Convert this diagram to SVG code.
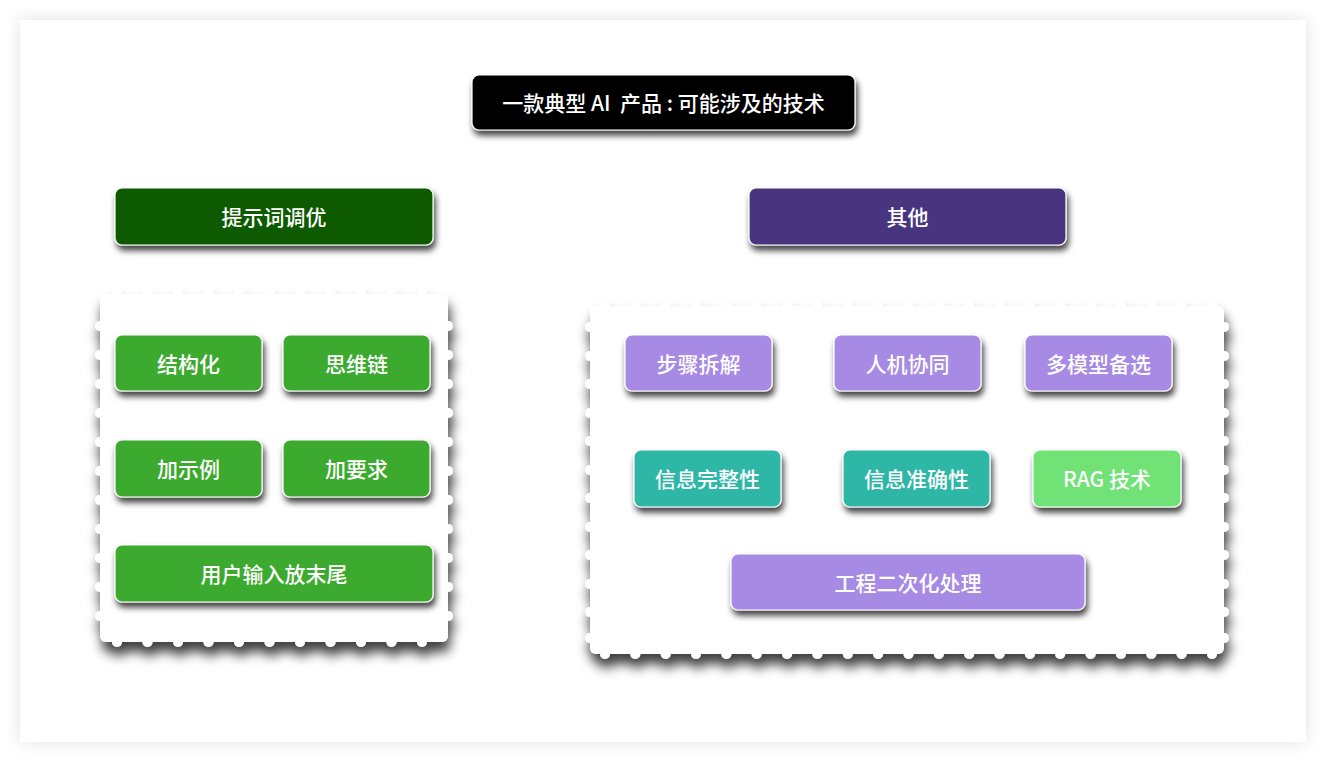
<svg xmlns="http://www.w3.org/2000/svg" width="1326" height="762" viewBox="0 0 1326 762">
<defs>
<filter id="cardShadow" x="-5%" y="-5%" width="110%" height="110%">
<feDropShadow dx="0" dy="0" stdDeviation="8" flood-color="#000" flood-opacity="0.12"/>
</filter>
<filter id="stampShadow" x="-10%" y="-10%" width="125%" height="135%">
<feDropShadow dx="2" dy="10" stdDeviation="6" flood-color="#000" flood-opacity="0.75"/>
</filter>
<filter id="nodeShadow" x="-10%" y="-20%" width="125%" height="160%">
<feDropShadow dx="2" dy="5" stdDeviation="3" flood-color="#000" flood-opacity="0.75"/>
</filter>
</defs>
<style>
.node rect{stroke:#fff;stroke-width:1.2;filter:url(#nodeShadow)}
.node text{fill:#fff;font-family:"Noto Sans CJK SC","Liberation Sans",sans-serif;font-size:21px;font-weight:500;text-anchor:middle;dominant-baseline:central}
.dark{fill:#0a5a02}
.purple{fill:#46367f}
.green{fill:#3aaa2f}
.lav{fill:#a78ae4}
.teal{fill:#2db6a7}
.lgreen{fill:#6fe276}
.stamp{fill:#fff;filter:url(#stampShadow)}
</style>
<rect x="20" y="20" width="1286" height="722" fill="#fff" filter="url(#cardShadow)"/>

<g id="container-left" class="stamp">
<rect x="100" y="294" width="348" height="348" rx="6"/>
<g id="cl-top">
<circle cx="117" cy="294" r="5"/><circle cx="147.5" cy="294" r="5"/><circle cx="178" cy="294" r="5"/><circle cx="208.5" cy="294" r="5"/><circle cx="239" cy="294" r="5"/><circle cx="269.5" cy="294" r="5"/><circle cx="300" cy="294" r="5"/><circle cx="330.5" cy="294" r="5"/><circle cx="361" cy="294" r="5"/><circle cx="391.5" cy="294" r="5"/><circle cx="422" cy="294" r="5"/>
</g>
<g id="cl-bottom">
<circle cx="117" cy="642" r="5"/><circle cx="147.5" cy="642" r="5"/><circle cx="178" cy="642" r="5"/><circle cx="208.5" cy="642" r="5"/><circle cx="239" cy="642" r="5"/><circle cx="269.5" cy="642" r="5"/><circle cx="300" cy="642" r="5"/><circle cx="330.5" cy="642" r="5"/><circle cx="361" cy="642" r="5"/><circle cx="391.5" cy="642" r="5"/><circle cx="422" cy="642" r="5"/>
</g>
<g id="cl-sides">
<circle cx="100" cy="326" r="5"/><circle cx="100" cy="355" r="5"/><circle cx="100" cy="384" r="5"/><circle cx="100" cy="413" r="5"/><circle cx="100" cy="442" r="5"/><circle cx="100" cy="471" r="5"/><circle cx="100" cy="500" r="5"/><circle cx="100" cy="529" r="5"/><circle cx="100" cy="558" r="5"/><circle cx="100" cy="587" r="5"/><circle cx="100" cy="616" r="5"/>
<circle cx="448" cy="326" r="5"/><circle cx="448" cy="355" r="5"/><circle cx="448" cy="384" r="5"/><circle cx="448" cy="413" r="5"/><circle cx="448" cy="442" r="5"/><circle cx="448" cy="471" r="5"/><circle cx="448" cy="500" r="5"/><circle cx="448" cy="529" r="5"/><circle cx="448" cy="558" r="5"/><circle cx="448" cy="587" r="5"/><circle cx="448" cy="616" r="5"/>
</g>
</g>

<g id="container-right" class="stamp">
<rect x="590" y="306" width="634" height="348" rx="6"/>
<g id="cr-top">
<circle cx="605" cy="306" r="5"/><circle cx="635.3" cy="306" r="5"/><circle cx="665.7" cy="306" r="5"/><circle cx="696" cy="306" r="5"/><circle cx="726.4" cy="306" r="5"/><circle cx="756.7" cy="306" r="5"/><circle cx="787.1" cy="306" r="5"/><circle cx="817.4" cy="306" r="5"/><circle cx="847.8" cy="306" r="5"/><circle cx="878.1" cy="306" r="5"/><circle cx="908.5" cy="306" r="5"/><circle cx="938.8" cy="306" r="5"/><circle cx="969.2" cy="306" r="5"/><circle cx="999.5" cy="306" r="5"/><circle cx="1029.9" cy="306" r="5"/><circle cx="1060.2" cy="306" r="5"/><circle cx="1090.6" cy="306" r="5"/><circle cx="1120.9" cy="306" r="5"/><circle cx="1151.3" cy="306" r="5"/><circle cx="1181.6" cy="306" r="5"/><circle cx="1212" cy="306" r="5"/>
</g>
<g id="cr-bottom">
<circle cx="605" cy="654" r="5"/><circle cx="635.3" cy="654" r="5"/><circle cx="665.7" cy="654" r="5"/><circle cx="696" cy="654" r="5"/><circle cx="726.4" cy="654" r="5"/><circle cx="756.7" cy="654" r="5"/><circle cx="787.1" cy="654" r="5"/><circle cx="817.4" cy="654" r="5"/><circle cx="847.8" cy="654" r="5"/><circle cx="878.1" cy="654" r="5"/><circle cx="908.5" cy="654" r="5"/><circle cx="938.8" cy="654" r="5"/><circle cx="969.2" cy="654" r="5"/><circle cx="999.5" cy="654" r="5"/><circle cx="1029.9" cy="654" r="5"/><circle cx="1060.2" cy="654" r="5"/><circle cx="1090.6" cy="654" r="5"/><circle cx="1120.9" cy="654" r="5"/><circle cx="1151.3" cy="654" r="5"/><circle cx="1181.6" cy="654" r="5"/><circle cx="1212" cy="654" r="5"/>
</g>
<g id="cr-sides">
<circle cx="590" cy="327" r="5"/><circle cx="590" cy="356" r="5"/><circle cx="590" cy="384" r="5"/><circle cx="590" cy="413" r="5"/><circle cx="590" cy="441" r="5"/><circle cx="590" cy="470" r="5"/><circle cx="590" cy="498" r="5"/><circle cx="590" cy="527" r="5"/><circle cx="590" cy="555" r="5"/><circle cx="590" cy="584" r="5"/><circle cx="590" cy="612" r="5"/><circle cx="590" cy="638" r="5"/>
<circle cx="1224" cy="327" r="5"/><circle cx="1224" cy="356" r="5"/><circle cx="1224" cy="384" r="5"/><circle cx="1224" cy="413" r="5"/><circle cx="1224" cy="441" r="5"/><circle cx="1224" cy="470" r="5"/><circle cx="1224" cy="498" r="5"/><circle cx="1224" cy="527" r="5"/><circle cx="1224" cy="555" r="5"/><circle cx="1224" cy="584" r="5"/><circle cx="1224" cy="612" r="5"/><circle cx="1224" cy="638" r="5"/>
</g>
</g>

<g id="connectors"></g>

<g id="title" class="node">
<rect x="472" y="75" width="383" height="55" rx="7" fill="#000"/>
<text x="663.5" y="102" xml:space="preserve">一款典型 AI  产品 : 可能涉及的技术</text>
</g>
<g id="prompt-tuning" class="node">
<rect class="dark" x="115" y="188" width="318" height="57" rx="7"/>
<text x="274" y="216">提示词调优</text>
</g>
<g id="other" class="node">
<rect class="purple" x="749" y="188" width="317" height="57" rx="7"/>
<text x="907.5" y="216">其他</text>
</g>

<g id="structured" class="node">
<rect class="green" x="115" y="335" width="147" height="56" rx="7"/>
<text x="188.5" y="363">结构化</text>
</g>
<g id="cot" class="node">
<rect class="green" x="283" y="335" width="147" height="56" rx="7"/>
<text x="356.5" y="363">思维链</text>
</g>
<g id="examples" class="node">
<rect class="green" x="115" y="440" width="147" height="57" rx="7"/>
<text x="188.5" y="468">加示例</text>
</g>
<g id="requirements" class="node">
<rect class="green" x="283" y="440" width="147" height="57" rx="7"/>
<text x="356.5" y="468">加要求</text>
</g>
<g id="input-last" class="node">
<rect class="green" x="115" y="545" width="318" height="57" rx="7"/>
<text x="274" y="573">用户输入放末尾</text>
</g>

<g id="step-split" class="node">
<rect class="lav" x="625" y="335" width="147" height="56" rx="7"/>
<text x="698.5" y="363">步骤拆解</text>
</g>
<g id="human-machine" class="node">
<rect class="lav" x="834" y="335" width="147" height="56" rx="7"/>
<text x="907.5" y="363">人机协同</text>
</g>
<g id="multi-model" class="node">
<rect class="lav" x="1025" y="335" width="147" height="56" rx="7"/>
<text x="1098.5" y="363">多模型备选</text>
</g>
<g id="info-complete" class="node">
<rect class="teal" x="634" y="450" width="147" height="57" rx="7"/>
<text x="707.5" y="478">信息完整性</text>
</g>
<g id="info-accurate" class="node">
<rect class="teal" x="843" y="450" width="147" height="57" rx="7"/>
<text x="916.5" y="478">信息准确性</text>
</g>
<g id="rag" class="node">
<rect class="lgreen" x="1033" y="450" width="148" height="57" rx="7"/>
<text x="1107" y="478">RAG 技术</text>
</g>
<g id="engineering" class="node">
<rect class="lav" x="731" y="554" width="354" height="56" rx="7"/>
<text x="908" y="582">工程二次化处理</text>
</g>
</svg>
